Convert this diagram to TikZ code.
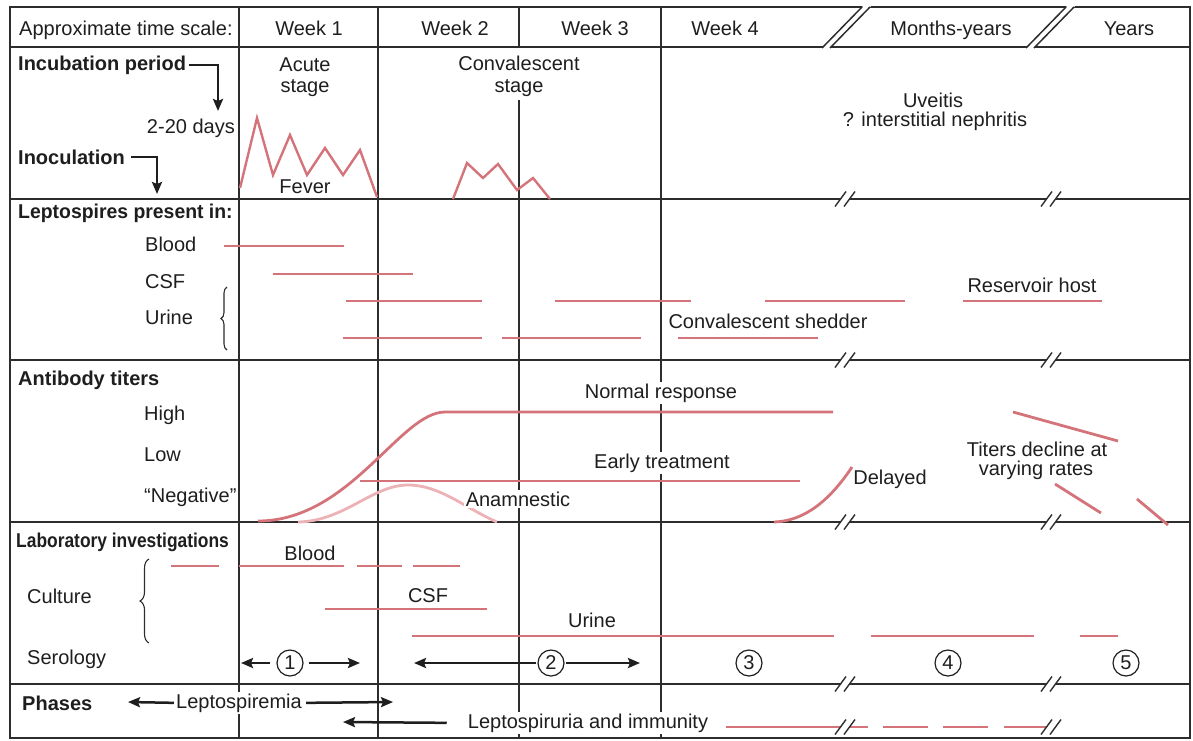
\documentclass[tikz,border=0pt]{standalone}
\usepackage{fontspec}
\setmainfont{Liberation Sans}
\usetikzlibrary{arrows.meta,decorations.pathreplacing}
\definecolor{rd}{RGB}{212,116,122}
\definecolor{lrd}{RGB}{236,178,182}
\definecolor{grd}{RGB}{45,45,45}
\definecolor{txt}{RGB}{30,30,30}
\tikzset{
  brk/.pic={
    \fill[white] (-4.5,-3.5) rectangle (4.5,3.5);
    \draw[draw=grd,line width=1.4pt] (-10,7.5) -- (1,-7.5) (-1,7.5) -- (10,-7.5);
  },
  every node/.style={font=\fontsize{20}{24}\selectfont, text=txt, inner sep=0pt},
  grid/.style={draw=grd, line width=1.5pt},
  frame/.style={draw=grd, line width=2pt},
  rl/.style={draw=rd, line width=2.8pt},
  ll/.style={draw=lrd, line width=2.8pt},
  arr/.style={draw=txt, line width=2.5pt, -{Stealth[length=12pt,width=10pt,inset=2pt]}},
  lab/.style={anchor=base},
  labw/.style={anchor=base west},
  knock/.style={fill=white, inner sep=2pt},
  hd/.style={font=\fontsize{20}{24}\selectfont\bfseries},
  num/.style={circle, draw=txt, line width=1.2pt, minimum size=26pt, inner sep=0pt},
  brc/.style={draw=grd, line width=1.1pt, decorate},
}
\begin{document}
\begin{tikzpicture}[x=1pt,y=-1pt]
\useasboundingbox (0,0) rectangle (1193,740);
% frame and grid
\draw[frame] (10,7) rectangle (1190,738);
\foreach \yy in {47,199,360,522,684} \draw[grid] (10,\yy) -- (1190,\yy);
\draw[grid] (239,7) -- (239,738);
\draw[grid] (378,7) -- (378,738);
\draw[grid] (519,7) -- (519,47);
\draw[grid] (519,100) -- (519,738);
\draw[grid] (661,7) -- (661,738);
% header breaks
\fill[white] (820,50) -- (864,5) -- (872,5) -- (828,50) -- cycle;
\draw[grid] (822,48) -- (862,7) (830,48) -- (870,7);
\fill[white] (1024,50) -- (1068,5) -- (1076,5) -- (1032,50) -- cycle;
\draw[grid] (1026,48) -- (1066,7) (1034,48) -- (1074,7);

% header text
\node[labw] (ats) at (19,35) {Approximate time scale:};
\node[lab] (w1) at (309,35) {Week 1};
\node[lab] (w2) at (455,35) {Week 2};
\node[lab] (w3) at (595,35) {Week 3};
\node[lab] (w4) at (725,35) {Week 4};
\node[lab] (my) at (951,35) {Months-years};
\node[lab] (yr) at (1129,35) {Years};

% row 2: incubation
\node[labw,hd] (inc) at (18,70) {Incubation period};
\node[anchor=base east] (days) at (235,133) {2-20 days};
\node[labw,hd] (inoc) at (18,164) {Inoculation};
\coordinate (inct) at (218,111);
\coordinate (inoct) at (157,194);
\draw[arr] ([xshift=3pt]inc.east) -| (inct);
\draw[arr] ([xshift=6pt]inoc.east) -| (inoct);
\node[lab] (ac1) at (305,71.5) {Acute};
\node[lab] (ac2) at (305,92) {stage};
\node[lab,knock] (cv1) at (519,70) {Convalescent};
\node[lab,knock] (cv2) at (519,92) {stage};
\draw[rl, line width=2.4pt] (240,188) -- (257,118) -- (273,175) -- (290,135) -- (307,175) -- (325,148) -- (343,175) -- (360,150) -- (377,197);
\draw[rl, line width=2.4pt] (453,199) -- (467,163) -- (483,178) -- (498,164) -- (517,190) -- (533,178) -- (550,199);
\node[lab] (fev) at (305,193) {Fever};
\node[lab] (uv1) at (933,107) {Uveitis};
\node[lab] (uv2) at (935,126) {? interstitial nephritis};

% row 3: leptospires
\node[labw,hd] (lep) at (18,218) {\scalebox{0.97}[1]{Leptospires present in:}};
\node[labw] (lb) at (145,251) {Blood};
\node[labw] (lc) at (145,288) {CSF};
\node[labw] (lu) at (145,324) {Urine};
\draw[brc, decoration={brace, amplitude=6pt}] (227,350) -- (227,287);
\draw[rl] (224,246) -- (344,246);
\draw[rl] (273,274) -- (413,274);
\draw[rl] (346,301) -- (482,301) (555,301) -- (691,301) (765,301) -- (905,301) (963,301) -- (1102,301);
\draw[rl] (343,338) -- (482,338) (502,338) -- (641,338) (678,338) -- (818,338);
\node[lab] (res) at (1032,292) {Reservoir host};
\node[lab] (cshed) at (768,328) {Convalescent shedder};

% row 4: antibody titers
\node[labw,hd] (abt) at (18,385) {Antibody titers};
\node[labw] (hi) at (144,420) {High};
\node[labw] (lo) at (144,461) {Low};
\node[labw] (neg) at (144,502) {“Negative”};
\draw[ll] (298,522) .. controls (345,521) and (372,485) .. (408,485) .. controls (440,485) and (465,508) .. (497,522);
\draw[rl] (258,521) .. controls (350,521) and (400,412) .. (445,412) -- (833,412);
\draw[rl] (360,481) -- (800,481);
\draw[rl] (774,522) .. controls (805,521) and (830,500) .. (852,467);
\draw[rl] (1013,412) -- (1118,441);
\draw[rl] (1055,484) -- (1101,513);
\draw[rl] (1137,499) -- (1168,525);
\node[lab,knock] (nr) at (661,398) {Normal response};
\node[lab,knock] (et) at (662,468) {Early treatment};
\node[lab,knock] (an) at (518,506) {Anamnestic};
\node[lab] (del) at (890,484) {Delayed};
\node[lab] (td1) at (1037,456) {Titers decline at};
\node[lab] (td2) at (1036,475) {varying rates};

% row 5: laboratory
\node[labw,hd] (labi) at (16,547) {\scalebox{0.87}[1]{Laboratory investigations}};
\node[labw] (cul) at (27,603) {Culture};
\node[labw] (ser) at (27,664) {Serology};
\draw[brc, decoration={brace, amplitude=9pt}] (149,643) -- (149,559);
\draw[rl] (171,566) -- (219,566) (239,566) -- (344,566) (357,566) -- (402,566) (413,566) -- (460,566);
\draw[rl] (325,609) -- (487,609);
\draw[rl] (412,636) -- (834,636) (871,636) -- (1034,636) (1080,636) -- (1118,636);
\node[lab] (lbl) at (310,560) {Blood};
\node[lab] (lcs) at (428,602) {CSF};
\node[lab] (lur) at (592,627) {Urine};
\node[num] (s1) at (290,663) {1};
\node[num] (s2) at (551,663) {2};
\node[num] (s3) at (749,663) {3};
\node[num] (s4) at (948,663) {4};
\node[num] (s5) at (1126,663) {5};
\coordinate (s1l) at (241,663);
\coordinate (s1r) at (360,663);
\coordinate (s2l) at (414,663);
\coordinate (s2r) at (640,663);
\draw[arr] ([xshift=-6pt]s1.west) -- (s1l);
\draw[arr] ([xshift=5pt]s1.east) -- (s1r);
\draw[arr] ([xshift=-1pt]s2.west) -- (s2l);
\draw[arr] ([xshift=1pt]s2.east) -- (s2r);

% row 6: phases
\node[labw,hd] (ph) at (22,710) {Phases};
\draw[rl] (726,727) -- (868,727) (883,727) -- (928,727) (943,727) -- (988,727) (1004,727) -- (1050,727);
\node[lab,knock] (lpm) at (239,708) {Leptospiremia};
\node[lab,knock] (lpu) at (588,728) {Leptospiruria and immunity};
\coordinate (lpml) at (128,702);
\coordinate (lpmr) at (393,702);
\coordinate (lpul) at (343,722);
\draw[arr] (lpm.west) -- (lpml);
\draw[arr] ([xshift=2pt]lpm.east) -- (lpmr);
\draw[arr] ([xshift=-19pt]lpu.west) -- (lpul);

% break marks
\foreach \yy in {199,360,522,684,727}
  \foreach \xx in {845,1051}
    \pic at (\xx,\yy) {brk};
\end{tikzpicture}
\end{document}
